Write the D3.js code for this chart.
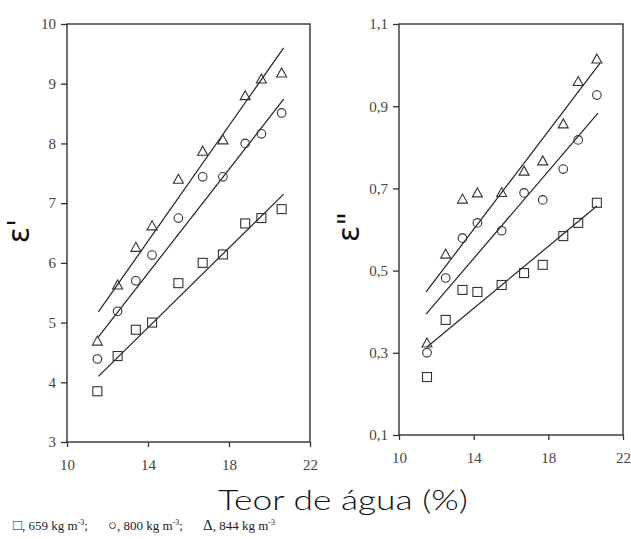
<!DOCTYPE html>
<html>
<head>
<meta charset="utf-8">
<script src="https://cdn.jsdelivr.net/npm/d3@7"></script>
<style>
  body { margin: 0; background: #fff; }
  svg { display: block; }
</style>
</head>
<body>
<div id="plot"></div>
<script>
// water content (%) shared by both panels
const moisture = [11.5, 12.5, 13.4, 14.2, 15.5, 16.7, 17.7, 18.8, 19.6, 20.6];

// real part (ε')
const real659 = [3.85, 4.44, 4.88, 5.0, 5.66, 6.0, 6.14, 6.66, 6.75, 6.9];
const real800 = [4.39, 5.19, 5.7, 6.13, 6.75, 7.44, 7.44, 8.0, 8.16, 8.51];
const real844 = [4.69, 5.63, 6.26, 6.62, 7.4, 7.87, 8.06, 8.8, 9.08, 9.18];

// imaginary part (ε'')
const imag659 = [0.241, 0.38, 0.453, 0.448, 0.465, 0.494, 0.514, 0.584, 0.616, 0.665];
const imag800 = [0.3, 0.482, 0.579, 0.616, 0.597, 0.689, 0.672, 0.747, 0.818, 0.927];
const imag844 = [0.324, 0.54, 0.674, 0.689, 0.69, 0.742, 0.767, 0.857, 0.96, 1.015];

// fitted lines, [x0, y0, x1, y1]
const realFits = [[11.55, 4.1, 20.7, 7.15], [11.55, 4.76, 20.7, 8.74], [11.55, 5.18, 20.7, 9.6]];
const imagFits = [[11.5, 0.314, 20.6, 0.657], [11.45, 0.394, 20.66, 0.883], [11.45, 0.448, 20.77, 1.005]];

const xTicks = [10, 14, 18, 22];
const realTicks = [3, 4, 5, 6, 7, 8, 9, 10];
const imagTicks = [0.1, 0.3, 0.5, 0.7, 0.9, 1.1];
const symbols = ["square", "circle", "triangle"];
const legendItems = [["□", "659"], ["○", "800"], ["Δ", "844"]];

const serif = "Liberation Serif, Times New Roman, DejaVu Serif, serif";

const svg = d3.select("#plot")
  .append("svg")
  .attr("width", 631)
  .attr("height", 539);

const ink = "#333";

function drawMarker(g, type, cx, cy) {
  if (type === "square") {
    g.append("rect").attr("x", cx - 4.5).attr("y", cy - 4.5).attr("width", 9).attr("height", 9)
      .attr("fill", "none").attr("stroke", ink).attr("stroke-width", 1.1);
  } else if (type === "circle") {
    g.append("circle").attr("cx", cx).attr("cy", cy).attr("r", 4.3)
      .attr("fill", "none").attr("stroke", ink).attr("stroke-width", 1.1);
  } else {
    g.append("path").attr("d", `M${cx},${cy - 5}L${cx + 5},${cy + 4}L${cx - 5},${cy + 4}Z`)
      .attr("fill", "none").attr("stroke", ink).attr("stroke-width", 1.1);
  }
}

function styleAxis(a) {
  a.attr("font-family", null).attr("font-size", null);
  a.select(".domain").remove();
  a.selectAll(".tick line").attr("stroke", ink).attr("stroke-width", 1.3);
  a.selectAll(".tick text").attr("fill", "#444")
    .style("font-family", serif).style("font-size", "15px");
}

function panel(box, yDomain, yTicks, yFmt, series, fits) {
  const x = d3.scaleLinear().domain([10, 22]).range([box.left, box.right]);
  const y = d3.scaleLinear().domain(yDomain).range([box.bottom, box.top]);
  const g = svg.append("g");

  g.append("g")
    .attr("transform", `translate(0,${box.bottom})`)
    .call(d3.axisBottom(x).tickValues(xTicks).tickSize(5).tickSizeOuter(0).tickPadding(12))
    .call(styleAxis);
  g.append("g")
    .attr("transform", `translate(${box.left},0)`)
    .call(d3.axisLeft(y).tickValues(yTicks).tickFormat(yFmt).tickSize(6).tickSizeOuter(0).tickPadding(5))
    .call(styleAxis);

  g.append("rect")
    .attr("x", box.left).attr("y", box.top)
    .attr("width", box.right - box.left).attr("height", box.bottom - box.top)
    .attr("fill", "none").attr("stroke", ink).attr("stroke-width", 1.4);

  fits.forEach(f => {
    g.append("line")
      .attr("x1", x(f[0])).attr("y1", y(f[1]))
      .attr("x2", x(f[2])).attr("y2", y(f[3]))
      .attr("stroke", "#222").attr("stroke-width", 1.2);
  });

  series.forEach((vals, i) => {
    vals.forEach((v, j) => drawMarker(g, symbols[i], x(moisture[j]), y(v)));
  });
}

panel({left: 67, right: 310, top: 24, bottom: 442}, [3, 10], realTicks, d3.format("d"),
  [real659, real800, real844], realFits);
panel({left: 399, right: 623, top: 24, bottom: 435}, [0.1, 1.1], imagTicks,
  d => d3.format(".1f")(d).replace(".", ","),
  [imag659, imag800, imag844], imagFits);

// axis titles (rotated like the original)
svg.append("text")
  .attr("transform", "translate(29,231) rotate(-90)")
  .attr("text-anchor", "middle")
  .style("font-family", "'DejaVu Sans', sans-serif").style("font-size", "30px").style("fill", "#111")
  .text("ε'");
svg.append("text")
  .attr("transform", "translate(359,227) rotate(-90)")
  .attr("text-anchor", "middle")
  .style("font-family", "'DejaVu Sans', sans-serif").style("font-size", "30px").style("fill", "#111")
  .text("ε\"");

svg.append("text")
  .attr("x", 218).attr("y", 510)
  .attr("textLength", 250).attr("lengthAdjust", "spacingAndGlyphs")
  .style("font-family", "Lato, 'DejaVu Sans', sans-serif").style("font-weight", 300)
  .style("font-size", "28px").style("fill", "#111")
  .text("Teor de água (%)");

// legend line
const legend = svg.append("text")
  .attr("x", 13).attr("y", 530)
  .style("font-family", serif).style("font-size", "13px").style("fill", "#222");
legendItems.forEach((d, i) => {
  legend.append("tspan").style("font-size", "15px").attr("dx", i ? 20 : 0).text(d[0]);
  legend.append("tspan").text(`, ${d[1]} kg m`);
  legend.append("tspan").style("font-size", "8px").attr("dy", -5).text("-3");
  legend.append("tspan").attr("dy", 5).text(i < 2 ? ";" : "");
});
</script>
</body>
</html>
